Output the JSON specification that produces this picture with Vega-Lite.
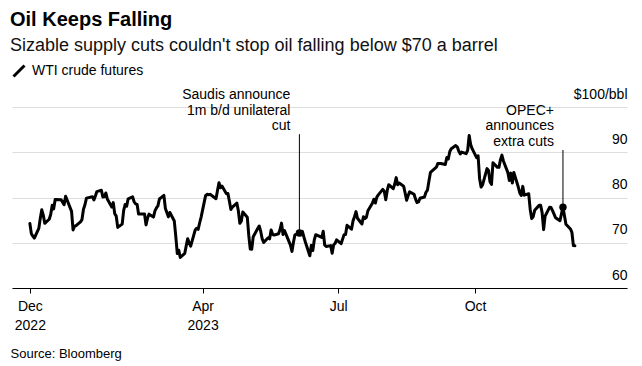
{
  "$schema": "https://vega.github.io/schema/vega-lite/v6.json",
  "width": 615,
  "height": 181,
  "autosize": {"type": "none"},
  "padding": {"left": 12, "top": 107, "right": 15, "bottom": 78},
  "background": "white",
  "config": {"font": "Liberation Sans", "view": {"stroke": null}},
  "title": {
    "text": "Oil Keeps Falling",
    "subtitle": "Sizable supply cuts couldn't stop oil falling below $70 a barrel",
    "anchor": "start",
    "frame": "group",
    "fontSize": 20,
    "fontWeight": "bold",
    "color": "#000000",
    "subtitleFontSize": 18,
    "subtitleColor": "#111111",
    "subtitlePadding": 7,
    "offset": 9,
    "dx": -2
  },
  "datasets": {
    "wti": [
      {"d":"2022-12-06","p":74.25},{"d":"2022-12-07","p":72.01},{"d":"2022-12-08","p":71.46},{"d":"2022-12-09","p":71.02},
      {"d":"2022-12-12","p":73.17},{"d":"2022-12-13","p":75.39},{"d":"2022-12-14","p":77.28},{"d":"2022-12-15","p":76.11},
      {"d":"2022-12-16","p":74.29},{"d":"2022-12-19","p":75.19},{"d":"2022-12-20","p":76.23},{"d":"2022-12-21","p":78.29},
      {"d":"2022-12-22","p":77.49},{"d":"2022-12-23","p":79.56},{"d":"2022-12-27","p":79.53},{"d":"2022-12-28","p":78.96},
      {"d":"2022-12-29","p":78.40},{"d":"2022-12-30","p":80.26},{"d":"2023-01-03","p":76.93},{"d":"2023-01-04","p":72.84},
      {"d":"2023-01-05","p":73.67},{"d":"2023-01-06","p":73.77},{"d":"2023-01-09","p":74.63},{"d":"2023-01-10","p":75.12},
      {"d":"2023-01-11","p":77.41},{"d":"2023-01-12","p":78.39},{"d":"2023-01-13","p":79.86},{"d":"2023-01-17","p":80.18},
      {"d":"2023-01-18","p":79.48},{"d":"2023-01-19","p":80.33},{"d":"2023-01-20","p":81.31},{"d":"2023-01-23","p":81.62},
      {"d":"2023-01-24","p":80.13},{"d":"2023-01-25","p":80.15},{"d":"2023-01-26","p":81.01},{"d":"2023-01-27","p":79.68},
      {"d":"2023-01-30","p":77.90},{"d":"2023-01-31","p":78.87},{"d":"2023-02-01","p":76.41},{"d":"2023-02-02","p":75.88},
      {"d":"2023-02-03","p":73.39},{"d":"2023-02-06","p":74.11},{"d":"2023-02-07","p":77.14},{"d":"2023-02-08","p":78.47},
      {"d":"2023-02-09","p":78.06},{"d":"2023-02-10","p":79.72},{"d":"2023-02-13","p":80.14},{"d":"2023-02-14","p":79.06},
      {"d":"2023-02-15","p":78.59},{"d":"2023-02-16","p":78.49},{"d":"2023-02-17","p":76.34},{"d":"2023-02-21","p":76.36},
      {"d":"2023-02-22","p":73.95},{"d":"2023-02-23","p":75.39},{"d":"2023-02-24","p":76.32},{"d":"2023-02-27","p":75.68},
      {"d":"2023-02-28","p":77.05},{"d":"2023-03-01","p":77.69},{"d":"2023-03-02","p":78.16},{"d":"2023-03-03","p":79.68},
      {"d":"2023-03-06","p":80.46},{"d":"2023-03-07","p":77.58},{"d":"2023-03-08","p":76.66},{"d":"2023-03-09","p":75.72},
      {"d":"2023-03-10","p":76.68},{"d":"2023-03-13","p":74.80},{"d":"2023-03-14","p":71.33},{"d":"2023-03-15","p":67.61},
      {"d":"2023-03-16","p":68.35},{"d":"2023-03-17","p":66.74},{"d":"2023-03-20","p":67.64},{"d":"2023-03-21","p":69.33},
      {"d":"2023-03-22","p":70.90},{"d":"2023-03-23","p":69.96},{"d":"2023-03-24","p":69.26},{"d":"2023-03-27","p":72.81},
      {"d":"2023-03-28","p":73.20},{"d":"2023-03-29","p":72.97},{"d":"2023-03-30","p":74.37},{"d":"2023-03-31","p":75.67},
      {"d":"2023-04-03","p":80.42},{"d":"2023-04-04","p":80.71},{"d":"2023-04-05","p":80.61},{"d":"2023-04-06","p":80.70},
      {"d":"2023-04-10","p":79.74},{"d":"2023-04-11","p":81.53},{"d":"2023-04-12","p":83.26},{"d":"2023-04-13","p":82.16},
      {"d":"2023-04-14","p":82.52},{"d":"2023-04-17","p":80.83},{"d":"2023-04-18","p":80.86},{"d":"2023-04-19","p":79.16},
      {"d":"2023-04-20","p":77.37},{"d":"2023-04-21","p":77.87},{"d":"2023-04-24","p":78.76},{"d":"2023-04-25","p":77.07},
      {"d":"2023-04-26","p":74.30},{"d":"2023-04-27","p":74.76},{"d":"2023-04-28","p":76.78},{"d":"2023-05-01","p":75.66},
      {"d":"2023-05-02","p":71.66},{"d":"2023-05-03","p":68.60},{"d":"2023-05-04","p":68.56},{"d":"2023-05-05","p":71.34},
      {"d":"2023-05-08","p":73.16},{"d":"2023-05-09","p":73.71},{"d":"2023-05-10","p":72.56},{"d":"2023-05-11","p":70.87},
      {"d":"2023-05-12","p":70.04},{"d":"2023-05-15","p":71.11},{"d":"2023-05-16","p":70.86},{"d":"2023-05-17","p":72.83},
      {"d":"2023-05-18","p":71.86},{"d":"2023-05-19","p":71.69},{"d":"2023-05-22","p":71.99},{"d":"2023-05-23","p":72.91},
      {"d":"2023-05-24","p":74.34},{"d":"2023-05-25","p":71.83},{"d":"2023-05-26","p":72.67},{"d":"2023-05-30","p":69.46},
      {"d":"2023-05-31","p":68.09},{"d":"2023-06-01","p":70.10},{"d":"2023-06-02","p":71.74},{"d":"2023-06-05","p":72.15},
      {"d":"2023-06-06","p":71.74},{"d":"2023-06-07","p":72.53},{"d":"2023-06-08","p":71.29},{"d":"2023-06-09","p":70.17},
      {"d":"2023-06-12","p":67.12},{"d":"2023-06-13","p":69.42},{"d":"2023-06-14","p":68.27},{"d":"2023-06-15","p":70.62},
      {"d":"2023-06-16","p":71.78},{"d":"2023-06-20","p":71.19},{"d":"2023-06-21","p":72.53},{"d":"2023-06-22","p":69.51},
      {"d":"2023-06-23","p":69.16},{"d":"2023-06-26","p":69.37},{"d":"2023-06-27","p":67.70},{"d":"2023-06-28","p":69.56},
      {"d":"2023-06-29","p":69.86},{"d":"2023-06-30","p":70.64},{"d":"2023-07-03","p":69.79},{"d":"2023-07-05","p":71.79},
      {"d":"2023-07-06","p":71.80},{"d":"2023-07-07","p":73.86},{"d":"2023-07-10","p":72.99},{"d":"2023-07-11","p":74.83},
      {"d":"2023-07-12","p":75.75},{"d":"2023-07-13","p":76.89},{"d":"2023-07-14","p":75.42},{"d":"2023-07-17","p":74.15},
      {"d":"2023-07-18","p":75.75},{"d":"2023-07-19","p":75.35},{"d":"2023-07-20","p":75.63},{"d":"2023-07-21","p":77.07},
      {"d":"2023-07-24","p":78.74},{"d":"2023-07-25","p":79.63},{"d":"2023-07-26","p":78.78},{"d":"2023-07-27","p":80.09},
      {"d":"2023-07-28","p":80.58},{"d":"2023-07-31","p":81.80},{"d":"2023-08-01","p":81.37},{"d":"2023-08-02","p":79.49},
      {"d":"2023-08-03","p":81.55},{"d":"2023-08-04","p":82.82},{"d":"2023-08-07","p":81.94},{"d":"2023-08-08","p":82.92},
      {"d":"2023-08-09","p":84.40},{"d":"2023-08-10","p":82.82},{"d":"2023-08-11","p":83.19},{"d":"2023-08-14","p":82.51},
      {"d":"2023-08-15","p":80.99},{"d":"2023-08-16","p":79.38},{"d":"2023-08-17","p":80.39},{"d":"2023-08-18","p":81.25},
      {"d":"2023-08-21","p":80.72},{"d":"2023-08-22","p":79.64},{"d":"2023-08-23","p":78.89},{"d":"2023-08-24","p":79.05},
      {"d":"2023-08-25","p":79.83},{"d":"2023-08-28","p":80.10},{"d":"2023-08-29","p":81.16},{"d":"2023-08-30","p":81.63},
      {"d":"2023-08-31","p":83.63},{"d":"2023-09-01","p":85.55},{"d":"2023-09-05","p":86.69},{"d":"2023-09-06","p":87.54},
      {"d":"2023-09-07","p":87.51},{"d":"2023-09-08","p":87.51},{"d":"2023-09-11","p":87.29},{"d":"2023-09-12","p":88.84},
      {"d":"2023-09-13","p":88.52},{"d":"2023-09-14","p":90.16},{"d":"2023-09-15","p":90.77},{"d":"2023-09-18","p":91.48},
      {"d":"2023-09-19","p":91.20},{"d":"2023-09-20","p":90.28},{"d":"2023-09-21","p":89.63},{"d":"2023-09-22","p":90.03},
      {"d":"2023-09-25","p":89.68},{"d":"2023-09-26","p":90.39},{"d":"2023-09-27","p":93.68},{"d":"2023-09-28","p":91.71},
      {"d":"2023-09-29","p":90.79},{"d":"2023-10-02","p":88.82},{"d":"2023-10-03","p":89.23},{"d":"2023-10-04","p":84.22},
      {"d":"2023-10-05","p":82.31},{"d":"2023-10-06","p":82.79},{"d":"2023-10-09","p":86.38},{"d":"2023-10-10","p":85.97},
      {"d":"2023-10-11","p":83.49},{"d":"2023-10-12","p":82.91},{"d":"2023-10-13","p":87.69},{"d":"2023-10-16","p":86.66},
      {"d":"2023-10-17","p":86.66},{"d":"2023-10-18","p":88.32},{"d":"2023-10-19","p":89.37},{"d":"2023-10-20","p":88.08},
      {"d":"2023-10-23","p":85.49},{"d":"2023-10-24","p":83.74},{"d":"2023-10-25","p":85.39},{"d":"2023-10-26","p":83.21},
      {"d":"2023-10-27","p":85.54},{"d":"2023-10-30","p":82.31},{"d":"2023-10-31","p":81.02},{"d":"2023-11-01","p":80.44},
      {"d":"2023-11-02","p":82.46},{"d":"2023-11-03","p":80.51},{"d":"2023-11-06","p":80.82},{"d":"2023-11-07","p":77.37},
      {"d":"2023-11-08","p":75.33},{"d":"2023-11-09","p":75.74},{"d":"2023-11-10","p":77.17},{"d":"2023-11-13","p":78.26},
      {"d":"2023-11-14","p":78.26},{"d":"2023-11-15","p":76.66},{"d":"2023-11-16","p":72.90},{"d":"2023-11-17","p":75.89},
      {"d":"2023-11-20","p":77.83},{"d":"2023-11-21","p":77.77},{"d":"2023-11-22","p":77.10},{"d":"2023-11-24","p":75.54},
      {"d":"2023-11-27","p":74.86},{"d":"2023-11-28","p":76.41},{"d":"2023-11-29","p":77.86},{"d":"2023-11-30","p":75.96},
      {"d":"2023-12-01","p":74.07},{"d":"2023-12-04","p":73.04},{"d":"2023-12-05","p":72.32},{"d":"2023-12-06","p":69.38},
      {"d":"2023-12-07","p":69.34}
    ],
    "events": [
      {"d":"2023-06-05","p":72.15,"top":94.0,"label":"Saudis announce\n1m b/d unilateral\ncut"},
      {"d":"2023-11-29","p":77.86,"top":90.5,"label":"OPEC+\nannounces\nextra cuts"}
    ]
  },
  "layer": [
    {
      "data": {"name": "wti"},
      "mark": {"type": "line", "strokeWidth": 3, "strokeJoin": "round", "strokeCap": "round"},
      "encoding": {
        "x": {
          "field": "d", "type": "temporal",
          "scale": {"type": "utc", "domain": [{"year": 2022, "month": 11, "date": 24, "utc": true}, {"year": 2024, "month": 1, "date": 11, "utc": true}]},
          "axis": {
            "values": [{"year": 2022, "month": 12, "date": 6, "utc": true}, {"year": 2023, "month": 4, "date": 1, "utc": true}, {"year": 2023, "month": 7, "date": 1, "utc": true}, {"year": 2023, "month": 10, "date": 1, "utc": true}],
            "labelExpr": "utcmonth(datum.value)==11 || utcmonth(datum.value)==3 ? [utcFormat(datum.value,'%b'), utcFormat(datum.value,'%Y')] : utcFormat(datum.value,'%b')",
            "grid": false,
            "domainColor": "#000000",
            "domainWidth": 1,
            "tickColor": "#000000",
            "tickSize": 5,
            "labelFontSize": 14,
            "labelColor": "#000000",
            "labelPadding": 6,
            "labelLineHeight": 19,
            "labelBaseline": "top",
            "labelFlush": false,
            "labelOverlap": false,
            "title": "Source: Bloomberg",
            "titleAnchor": "start",
            "titleAlign": "left",
            "titleBaseline": "alphabetic",
            "titleX": -2,
            "titleY": 69,
            "titleFontSize": 13,
            "titleFontWeight": "normal",
            "titleColor": "#000000"
          }
        },
        "y": {
          "field": "p", "type": "quantitative",
          "scale": {"domain": [60, 100], "nice": false, "zero": false},
          "axis": {
            "orient": "right",
            "values": [60, 70, 80, 90, 100],
            "labelExpr": "datum.value == 100 ? '$100/bbl' : datum.label",
            "grid": true,
            "gridColor": "#dddddd",
            "gridWidth": 1,
            "domain": false,
            "ticks": false,
            "tickSize": 0,
            "labelAlign": "right",
            "labelPadding": 0,
            "labelBaseline": "alphabetic",
            "labelOffset": -9,
            "labelFontSize": 14,
            "labelColor": "#000000",
            "labelFlush": false,
            "labelOverlap": false,
            "title": null
          }
        },
        "color": {
          "datum": "WTI crude futures", "type": "nominal",
          "scale": {"range": ["#000000"]},
          "legend": {
            "orient": "none",
            "legendX": 0,
            "legendY": -43,
            "title": null,
            "symbolType": "M-1,1L1,-1",
            "symbolSize": 120,
            "symbolStrokeWidth": 3,
            "labelFontSize": 14,
            "labelColor": "#000000",
            "labelOffset": 6
          }
        }
      }
    },
    {
      "data": {"name": "events"},
      "mark": {"type": "rule", "color": "#000000", "strokeWidth": 1},
      "encoding": {
        "x": {"field": "d", "type": "temporal"},
        "y": {"field": "top", "type": "quantitative"},
        "y2": {"field": "p"}
      }
    },
    {
      "data": {"name": "events"},
      "mark": {"type": "point", "filled": true, "size": 55, "color": "#000000", "opacity": 1},
      "encoding": {
        "x": {"field": "d", "type": "temporal"},
        "y": {"field": "p", "type": "quantitative"}
      }
    },
    {
      "data": {"name": "events"},
      "mark": {"type": "text", "align": "right", "baseline": "bottom", "dx": -9, "dy": -32, "fontSize": 14, "lineHeight": 15.5, "lineBreak": "\n", "color": "#000000"},
      "encoding": {
        "x": {"field": "d", "type": "temporal"},
        "y": {"field": "top", "type": "quantitative"},
        "text": {"field": "label", "type": "nominal"}
      }
    }
  ]
}
